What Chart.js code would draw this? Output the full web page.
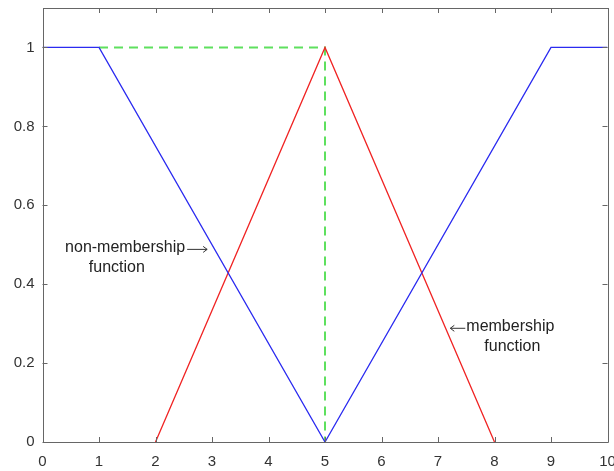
<!DOCTYPE html>
<html>
<head>
<meta charset="utf-8">
<script src="https://cdn.jsdelivr.net/npm/chart.js@4"></script>
<style>
  html, body { margin: 0; padding: 0; background: #fff; }
  #wrap { width: 614px; height: 471px; position: relative; }
</style>
</head>
<body>
<div id="wrap"><canvas id="c" width="614" height="471"></canvas></div>
<script>
// Trapezoid / triangle membership shapes (x, y break points)
const nonMemberX = [0, 1, 5, 9, 10];
const nonMemberY = [1, 1, 0, 1, 1];
const memberX = [2, 5, 8];
const memberY = [0, 1, 0];
const peakGuideX = [1, 5, 5];
const peakGuideY = [1, 1, 0];

const xTicks = [0, 1, 2, 3, 4, 5, 6, 7, 8, 9, 10];
const yTicks = [0, 0.2, 0.4, 0.6, 0.8, 1];

// Text notes: anchor (left edge, middle) in data units, optional arrow
const notes = [
  { x: 0.40, y: 0.492, text: 'non-membership', arrow: 'right' },
  { x: 0.82, y: 0.441, text: 'function' },
  { x: 7.20, y: 0.292, text: 'membership', arrow: 'left' },
  { x: 7.82, y: 0.241, text: 'function' }
];

const pts = (xs, ys) => xs.map((x, i) => ({ x, y: ys[i] }));

function arrow(ctx, x0, x1, y) {
  const dir = Math.sign(x1 - x0);
  ctx.beginPath();
  ctx.moveTo(x0, y); ctx.lineTo(x1, y);
  ctx.moveTo(x1 - dir * 4, y - 3); ctx.lineTo(x1, y); ctx.lineTo(x1 - dir * 4, y + 3);
  ctx.stroke();
}

// Box around the plot with inward tick marks, plus the text notes
const boxPlugin = {
  id: 'boxTicks',
  afterDatasetsDraw(chart) {
    const { ctx, chartArea: a, scales: { x, y } } = chart;
    ctx.save();
    ctx.strokeStyle = '#666';
    ctx.lineWidth = 1;
    ctx.beginPath();
    ctx.rect(Math.round(a.left) + 0.5, Math.round(a.top) + 0.5,
             Math.round(a.right - a.left), Math.round(a.bottom - a.top));
    ctx.stroke();
    const len = 5;
    ctx.beginPath();
    xTicks.forEach(v => {
      const px = Math.round(x.getPixelForValue(v)) + 0.5;
      ctx.moveTo(px, a.bottom); ctx.lineTo(px, a.bottom - len);
      ctx.moveTo(px, a.top); ctx.lineTo(px, a.top + len);
    });
    yTicks.forEach(v => {
      const py = Math.round(y.getPixelForValue(v)) + 0.5;
      ctx.moveTo(a.left, py); ctx.lineTo(a.left + len, py);
      ctx.moveTo(a.right, py); ctx.lineTo(a.right - len, py);
    });
    ctx.stroke();

    ctx.fillStyle = '#222';
    ctx.strokeStyle = '#333';
    ctx.lineWidth = 1;
    ctx.font = '16px "Liberation Sans", Arial, sans-serif';
    ctx.textAlign = 'left';
    ctx.textBaseline = 'middle';
    notes.forEach(n => {
      const lx = x.getPixelForValue(n.x);
      const cy = y.getPixelForValue(n.y);
      const w = ctx.measureText(n.text).width;
      if (n.arrow === 'left') {
        arrow(ctx, lx + 16, lx + 1, cy + 1.5);
        ctx.fillText(n.text, lx + 17, cy);
      } else {
        ctx.fillText(n.text, lx, cy);
        if (n.arrow === 'right') arrow(ctx, lx + w + 2, lx + w + 22, cy + 1.5);
      }
    });
    ctx.restore();
  }
};

const noPad = s => { s.paddingLeft = 0; s.paddingRight = 0; s.paddingTop = 0; s.paddingBottom = 0; };

new Chart(document.getElementById('c'), {
  type: 'line',
  data: {
    datasets: [
      {
        label: 'non-membership',
        data: pts(nonMemberX, nonMemberY),
        borderColor: '#2b2bf0',
        borderWidth: 1.3,
        pointRadius: 0,
        tension: 0
      },
      {
        label: 'membership',
        data: pts(memberX, memberY),
        borderColor: '#f02424',
        borderWidth: 1.3,
        pointRadius: 0,
        tension: 0
      },
      {
        label: 'peak',
        data: pts(peakGuideX, peakGuideY),
        borderColor: '#5ee05e',
        borderWidth: 2,
        borderDash: [9, 6],
        pointRadius: 0,
        tension: 0
      }
    ]
  },
  options: {
    responsive: false,
    animation: false,
    layout: { padding: { left: 0, right: 6.5, top: 8, bottom: 0 } },
    plugins: { legend: { display: false }, tooltip: { enabled: false } },
    scales: {
      x: {
        type: 'linear',
        min: 0, max: 10,
        afterBuildTicks: s => { s.ticks = xTicks.map(v => ({ value: v })); },
        afterFit: s => { s.height = 29; noPad(s); },
        grid: { display: false, drawTicks: false },
        border: { display: false },
        ticks: {
          padding: 11,
          color: '#333',
          font: { family: '"Liberation Sans", Arial, sans-serif', size: 15 },
          maxRotation: 0,
          autoSkip: false
        }
      },
      y: {
        type: 'linear',
        min: 0, max: 1.1,
        afterBuildTicks: s => { s.ticks = yTicks.map(v => ({ value: v })); },
        afterFit: s => { s.width = 42.5; noPad(s); },
        grid: { display: false, drawTicks: false },
        border: { display: false },
        ticks: {
          padding: 8,
          color: '#333',
          font: { family: '"Liberation Sans", Arial, sans-serif', size: 15 },
          callback: v => String(Math.round(v * 10) / 10),
          autoSkip: false
        }
      }
    }
  },
  plugins: [boxPlugin]
});
</script>
</body>
</html>
